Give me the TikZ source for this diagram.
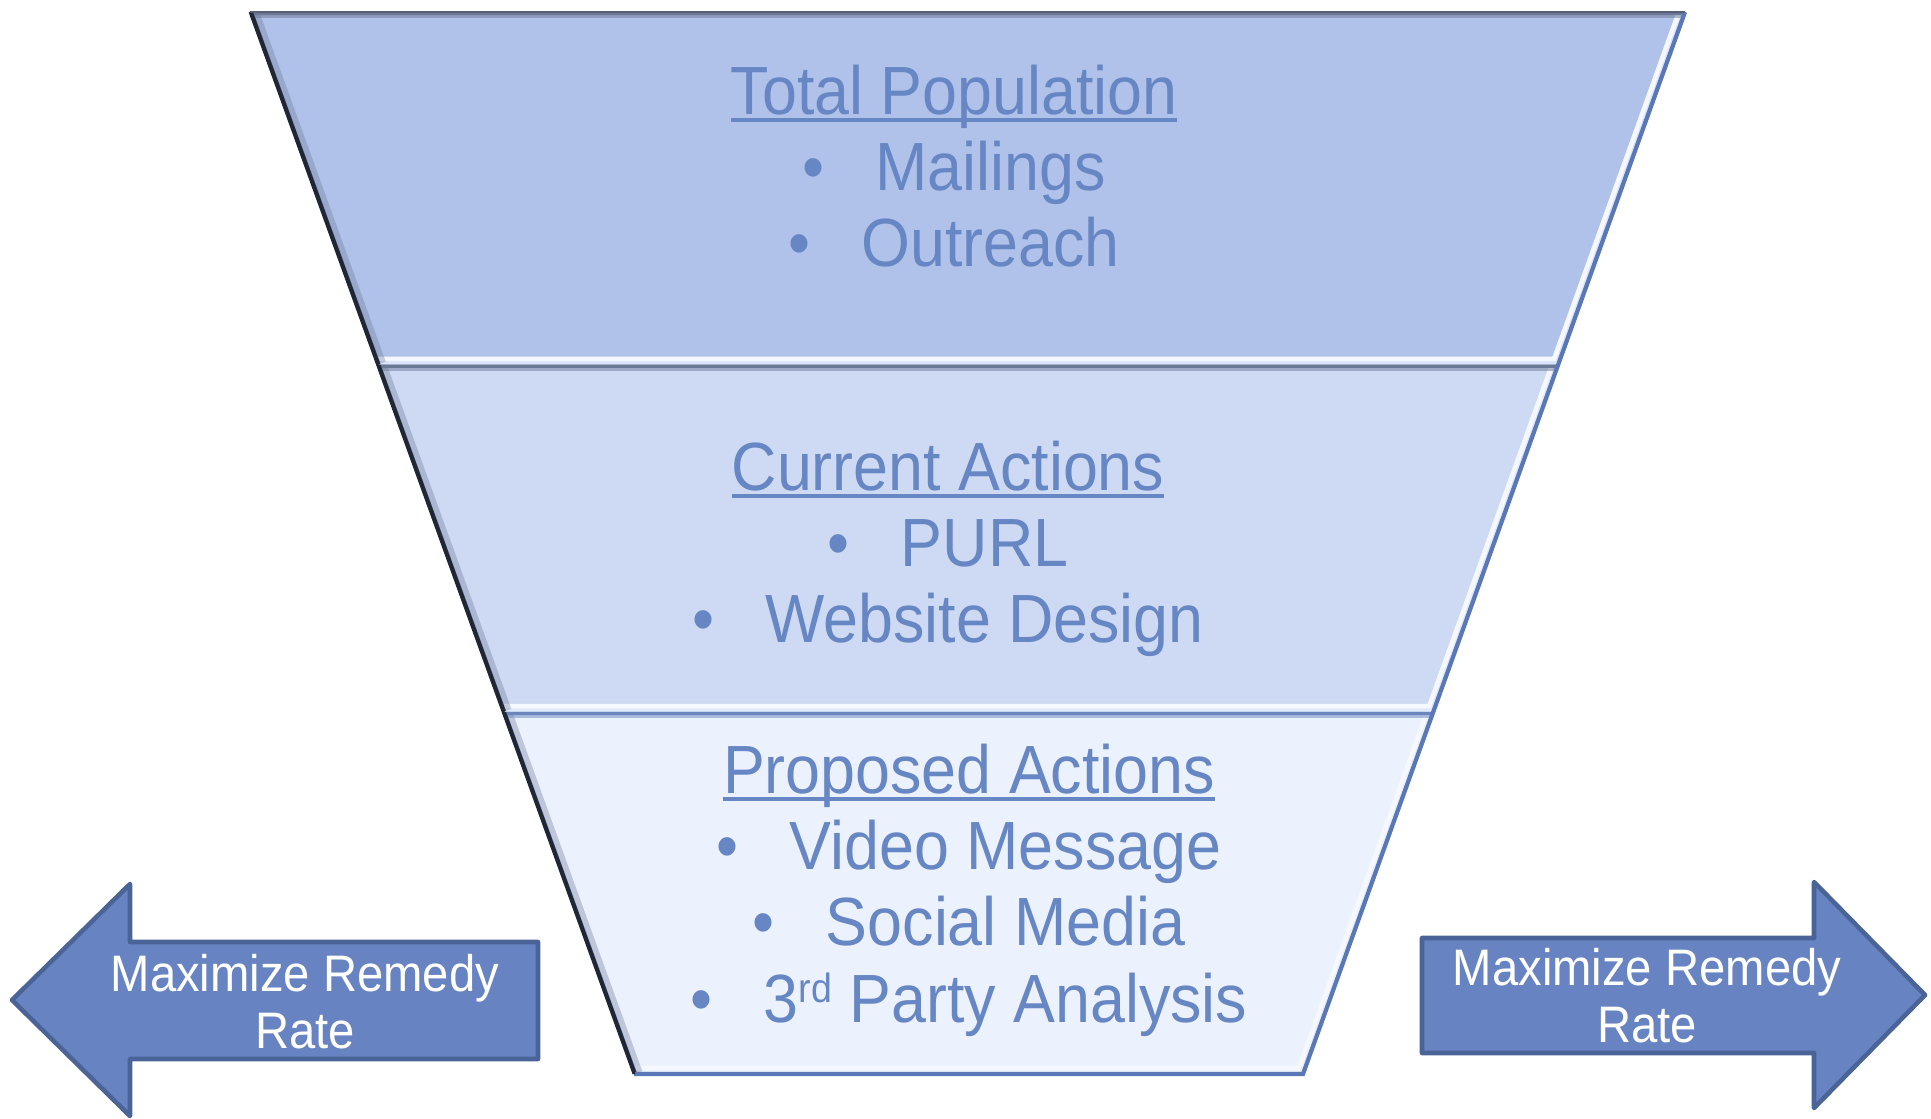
\documentclass[tikz,border=0pt]{standalone}
\usepackage{fontspec}
\setmainfont{Liberation Sans}[FakeStretch=0.92]
\usetikzlibrary{calc}

\definecolor{topband}{HTML}{B0C2E9}
\definecolor{midband}{HTML}{CEDAF3}
\definecolor{lowband}{HTML}{ECF2FD}
\definecolor{bevellight}{HTML}{E6EEFF}
\definecolor{beveldark}{HTML}{6B7896}
\definecolor{rimblue}{HTML}{5B78B6}
\definecolor{rimdark}{HTML}{1F2636}
\definecolor{funneltext}{HTML}{6786C4}
\definecolor{arrowfill}{HTML}{6783C1}
\definecolor{arrowline}{HTML}{4A6497}

\newcommand{\headline}[1]{\setbox0\hbox{#1}\rlap{\rule[-0.115em]{\wd0}{0.055em}}\box0}
\newcommand{\itm}[1]{\textbullet\hspace{0.75em}#1}
\newcommand{\sups}[1]{\raisebox{0.29em}{\fontsize{11.6}{11.6}\selectfont #1}}

\begin{document}
\begin{tikzpicture}[x=0.01cm,y=-0.01cm]
    \tikzstyle{bandtext}=[text=funneltext, align=center, anchor=north, inner sep=0pt,
                          font=\fontsize{19.4}{21.7}\selectfont]
    \tikzstyle{arrowtext}=[text=white, align=center, anchor=north, inner sep=0pt,
                           font=\fontsize{14.6}{16.1}\selectfont]
    \tikzstyle{bigarrow}=[fill=arrowfill, draw=arrowline, line width=1.3pt, line join=round]

    \useasboundingbox (0,0) rectangle (1931,1118);

    \coordinate (tl) at (250,12);
    \coordinate (tr) at (1685,12);
    \coordinate (bl) at (634,1074);
    \coordinate (br) at (1303,1074);
    \coordinate (l1) at ($(tl)!0.332!(bl)$);
    \coordinate (r1) at ($(tr)!0.332!(br)$);
    \coordinate (l2) at ($(tl)!0.659!(bl)$);
    \coordinate (r2) at ($(tr)!0.659!(br)$);

    % funnel bands, bevelled
    \foreach \pa/\pb/\pc/\pd/\col/\edge in {tl/tr/r1/l1/topband/beveldark, l1/r1/r2/l2/midband/beveldark,
                                            l2/r2/br/bl/lowband/rimblue!90}{
        \begin{scope}
            \clip (\pa) -- (\pb) -- (\pc) -- (\pd) -- cycle;
            \fill[\col] (\pa) -- (\pb) -- (\pc) -- (\pd) -- cycle;
            \draw[white!60!bevellight, line width=4.6pt] (\pb) -- (\pc) -- (\pd);
            \draw[bevellight!80!\col, line width=2pt] (\pb) -- (\pc) -- (\pd);
            \draw[beveldark, opacity=0.35, line width=5pt] (\pd) -- (\pa);
            \draw[\edge, opacity=0.5, line width=3.4pt] (\pa) -- (\pb);
            \draw[\edge, line width=1.8pt] (\pd) -- (\pa) -- (\pb);
            \draw[rimdark, line width=1.6pt] (\pd) -- (\pa);
        \end{scope}
    }
    \draw[rimblue, line width=1.2pt] (tr) -- (br) -- (bl);
    \draw[rimdark, line width=0.8pt] (bl) -- (tl);
    \draw[beveldark!80!black, line width=0.8pt] (tl) -- (tr);

    \node[bandtext] (pop) at (954,64) {\headline{Total Population}\\ \itm{Mailings}\\ \itm{Outreach}};
    \node[bandtext] (cur) at (948,440) {\headline{Current Actions}\\ \itm{PURL}\\ \itm{Website Design}};
    \node[bandtext] (prop) at (969,743) {\headline{Proposed Actions}\\ \itm{Video Message}\\
                                         \itm{Social Media}\\ \itm{3\sups{rd} Party Analysis}};

    % side arrows
    \draw[bigarrow] (12,1000) -- (130,884) -- (130,942) -- (538,942) -- (538,1059)
                    -- (130,1059) -- (130,1116) -- cycle;
    \draw[bigarrow] (1925,995) -- (1814,882) -- (1814,938) -- (1422,938) -- (1422,1053)
                    -- (1814,1053) -- (1814,1108) -- cycle;

    \node[arrowtext] (lefttag) at (305,954) {Maximize Remedy\\Rate};
    \node[arrowtext] (righttag) at (1647,948) {Maximize Remedy\\Rate};

\end{tikzpicture}
\end{document}
